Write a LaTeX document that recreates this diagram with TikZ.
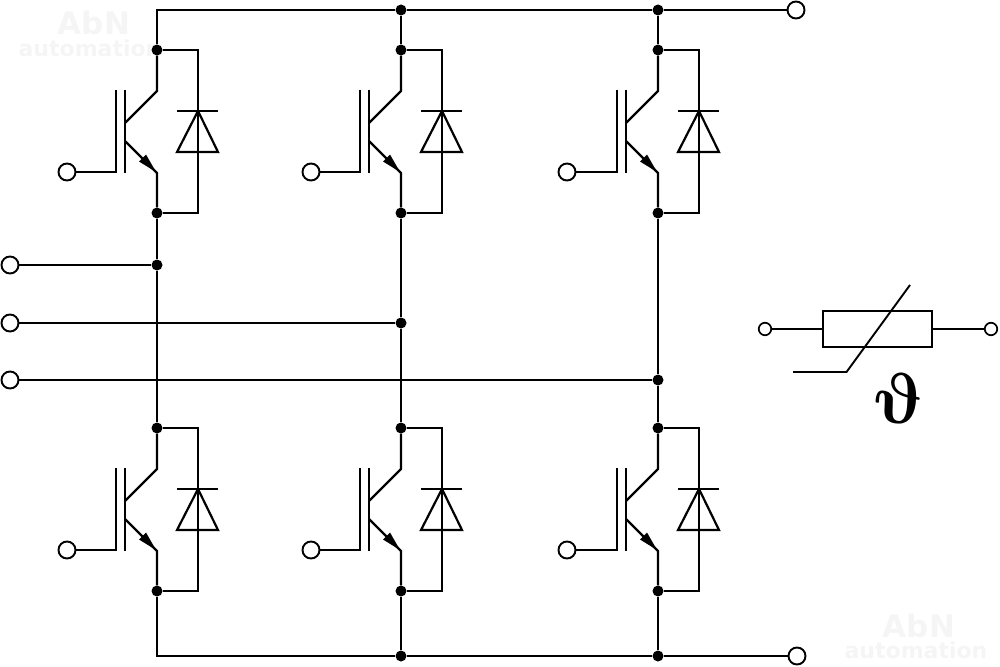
\documentclass[tikz,border=0pt]{standalone}
\usepackage{fontspec}
\setsansfont{DejaVu Sans}
\tikzset{
  wire/.style={line width=2.2pt,black},
  thin wire/.style={line width=1.9pt,black},
  terminal/.style={circle,draw=black,line width=1.9pt,fill=white,minimum size=17pt,inner sep=0pt},
  small terminal/.style={circle,draw=black,line width=1.7pt,fill=white,minimum size=12.5pt,inner sep=0pt},
  junction/.style={circle,fill=black,draw=none,minimum size=11pt,inner sep=0pt},
  watermark/.style={text=black!4,font=\sffamily\bfseries,inner sep=0pt},
}
% #1 name, #2 rail x, #3 y offset, #4 gate terminal x
\newcommand{\igbtcell}[4]{
  \node[junction] (#1c) at (#2,50+#3) {};
  \node[junction] (#1e) at (#2,213+#3) {};
  \node[terminal] (#1g) at (#4,172+#3) {};
  \coordinate (#1gp) at (#2-41,172+#3);
  \coordinate (#1pt) at (#2-41,90+#3);
  \coordinate (#1bt) at (#2-32,90+#3);
  \coordinate (#1bb) at (#2-32,173+#3);
  \coordinate (#1bc) at (#2-32,123+#3);
  \coordinate (#1be) at (#2-32,141+#3);
  \coordinate (#1ct) at (#2,91+#3);
  \coordinate (#1et) at (#2,173+#3);
  \coordinate (#1dt) at (#2+41,50+#3);
  \coordinate (#1db) at (#2+41,213+#3);
  \coordinate (#1da) at (#2+41,111+#3);
  \coordinate (#1dl) at (#2+20,152+#3);
  \coordinate (#1dr) at (#2+61,152+#3);
  \coordinate (#1bl) at (#2+20,111+#3);
  \coordinate (#1br) at (#2+61,111+#3);
  \draw[wire] (#1g) -- (#1gp) -- (#1pt);
  \draw[wire] (#1bt) -- (#1bb);
  \draw[wire] (#1bc) -- (#1ct) -- (#1c);
  \draw[wire] (#1be) -- (#1et) -- (#1e);
  \fill[black] (#2-1,172+#3) -- (#2-18,161.5+#3) -- (#2-11,154.5+#3) -- cycle;
  \draw[wire] (#1c) -- (#1dt) -- (#1db) -- (#1e);
  \draw[wire] (#1bl) -- (#1br);
  \draw[wire,line join=miter] (#1da) -- (#1dl) -- (#1dr) -- cycle;
}
\begin{document}
\begin{tikzpicture}[x=1pt,y=-1pt]
\useasboundingbox (0,0) rectangle (1000,666);
% watermarks
\node[watermark,font=\sffamily\bfseries\fontsize{31}{31}\selectfont] at (94,23) {AbN};
\node[watermark,font=\sffamily\bfseries\fontsize{22}{22}\selectfont] at (90,48) {automation};
\node[watermark,font=\sffamily\bfseries\fontsize{31}{31}\selectfont] at (919,626) {AbN};
\node[watermark,font=\sffamily\bfseries\fontsize{22}{22}\selectfont] at (916,650) {automation};
% rails
\node[terminal] (tp) at (796,10) {};
\node[terminal] (tn) at (797,656) {};
\coordinate (topL) at (157,10);
\coordinate (botL) at (157,656);
\node[junction] (top2) at (401,10) {};
\node[junction] (top3) at (658,10) {};
\node[junction] (bot2) at (401,656) {};
\node[junction] (bot3) at (658,656) {};
% cells
\igbtcell{ua}{157}{0}{67}
\igbtcell{va}{401}{0}{311}
\igbtcell{wa}{658}{0}{567}
\igbtcell{ub}{157}{378}{67}
\igbtcell{vb}{401}{378}{311}
\igbtcell{wb}{658}{378}{567}
% phases
\node[terminal] (u) at (10,265) {};
\node[terminal] (v) at (10,323) {};
\node[terminal] (w) at (10,380) {};
\node[junction] (uj) at (157,265) {};
\node[junction] (vj) at (401,323) {};
\node[junction] (wj) at (658,380) {};
\draw[wire] (u) -- (uj);
\draw[wire] (v) -- (vj);
\draw[wire] (w) -- (wj);
% rail connections
\draw[wire,line join=miter] (tp) -- (top3) -- (top2) -- (topL) -- (uac);
\draw[wire] (top2) -- (vac);
\draw[wire] (top3) -- (wac);
\draw[wire,line join=miter] (tn) -- (bot3) -- (bot2) -- (botL) -- (ube);
\draw[wire] (bot2) -- (vbe);
\draw[wire] (bot3) -- (wbe);
\draw[wire] (uae) -- (uj) -- (ubc);
\draw[wire] (vae) -- (vj) -- (vbc);
\draw[wire] (wae) -- (wj) -- (wbc);
% thermistor
\node[draw=black,line width=1.9pt,minimum width=109pt,minimum height=36pt,inner sep=0pt] (rt) at (877.5,329) {};
\node[small terminal] (t1) at (765,329) {};
\node[small terminal] (t2) at (991,329) {};
\draw[thin wire] (t1) -- (rt);
\draw[thin wire] (rt) -- (t2);
\coordinate (sl1) at (910,285);
\coordinate (sl2) at (846.5,372);
\coordinate (sl3) at (793,372);
\draw[thin wire] (sl1) -- (sl2) -- (sl3);
\node[inner sep=0pt,xslant=-0.22,transform shape] (theta) at (898,398) {\scalebox{7.2}{\boldmath$\vartheta$}};
\end{tikzpicture}
\end{document}
